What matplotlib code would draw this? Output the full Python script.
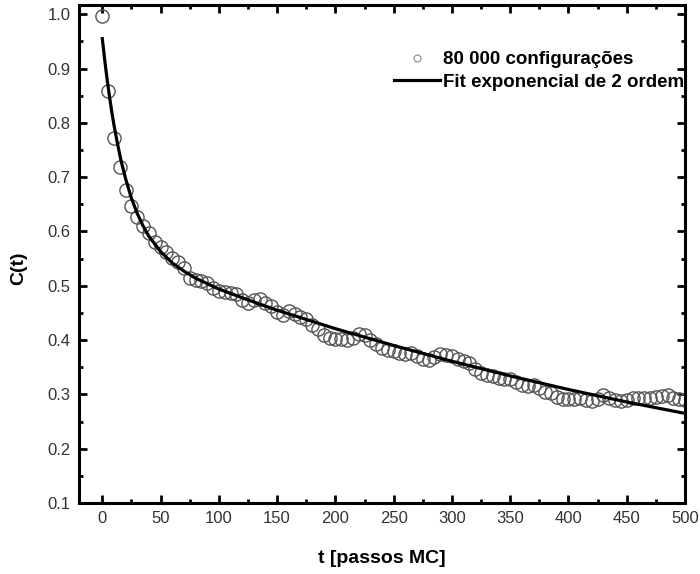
import numpy as np
import matplotlib
matplotlib.use("Agg")
import matplotlib.pyplot as plt
from matplotlib.lines import Line2D
from matplotlib.ticker import MultipleLocator

plt.rcParams['font.family'] = ['Liberation Sans', 'DejaVu Sans']

# data: C(t) every 5 MC steps
t_data = list(range(0, 505, 5))
c_data = [
    0.997, 0.858, 0.772, 0.719, 0.677, 0.647, 0.627, 0.610, 0.597, 0.581,
    0.571, 0.562, 0.552, 0.543, 0.533, 0.515, 0.511, 0.509, 0.505, 0.496,
    0.491, 0.489, 0.486, 0.484, 0.474, 0.469, 0.473, 0.476, 0.468, 0.463,
    0.452, 0.446, 0.454, 0.448, 0.443, 0.439, 0.428, 0.420, 0.410, 0.404,
    0.402, 0.402, 0.401, 0.404, 0.411, 0.410, 0.401, 0.393, 0.385, 0.382,
    0.380, 0.376, 0.374, 0.376, 0.370, 0.365, 0.363, 0.368, 0.374, 0.372,
    0.370, 0.366, 0.362, 0.358, 0.347, 0.340, 0.336, 0.333, 0.330, 0.329,
    0.328, 0.322, 0.317, 0.316, 0.317, 0.312, 0.305, 0.302, 0.295, 0.292,
    0.291, 0.292, 0.293, 0.290, 0.288, 0.292, 0.299, 0.294, 0.290, 0.288,
    0.290, 0.293, 0.293, 0.293, 0.294, 0.296, 0.297, 0.299, 0.294, 0.291,
    0.289,
]

# fitted curve
t_fit = [0, 2, 4, 6, 8, 10, 13, 16, 20, 25, 30, 35, 40, 50, 60, 70, 80, 90,
         100, 125, 150, 175, 200, 250, 300, 350, 400, 450, 500]
c_fit = [0.955, 0.917, 0.882, 0.851, 0.822, 0.796, 0.762, 0.731, 0.697, 0.661,
         0.633, 0.610, 0.591, 0.563, 0.542, 0.527, 0.514, 0.504, 0.494, 0.474,
         0.455, 0.438, 0.421, 0.390, 0.361, 0.334, 0.309, 0.286, 0.265]

lbl_data = "80 000 configurações"
lbl_fit = "Fit exponencial de 2 ordem"

fig = plt.figure(figsize=(7, 5.74), dpi=100)
ax = fig.add_axes([79/700, 1 - 503/574, 606/700, 498/574])

ax.plot(t_data, c_data, 'o', ms=9.5, mfc='none', mec='#555555', mew=1.0)
ax.plot(t_fit, c_fit, '-', color='black', lw=2.3)

ax.set_xlim(-20, 500)
ax.set_ylim(0.1, 1.017)
ax.xaxis.set_major_locator(MultipleLocator(50))
ax.xaxis.set_minor_locator(MultipleLocator(25))
ax.yaxis.set_major_locator(MultipleLocator(0.1))
ax.yaxis.set_minor_locator(MultipleLocator(0.05))
ax.yaxis.set_major_formatter(matplotlib.ticker.FormatStrFormatter('%.1f'))

ax.tick_params(which='both', direction='in', top=True, right=True, width=2,
               labelsize=12, labelcolor='#333333')
ax.tick_params(which='major', length=6, pad=6)
ax.tick_params(which='minor', length=3)
for s in ax.spines.values():
    s.set_linewidth(2.2)

ax.set_xlabel("t [passos MC]", fontsize=14, fontweight='bold')
ax.set_ylabel("C(t)", fontsize=14, fontweight='bold')
ax.xaxis.set_label_coords(0.5, -0.095)
ax.yaxis.set_label_coords(-0.086, 0.472)

handles = [
    Line2D([], [], ls='none', marker='o', ms=5, mfc='none', mec='#888888', mew=0.8),
    Line2D([], [], color='black', lw=2.3),
]
ax.legend(handles, [lbl_data, lbl_fit], frameon=False, loc='upper right',
          bbox_to_anchor=(0.998, 0.907), borderaxespad=0, borderpad=0,
          handlelength=2.5, handletextpad=0.12, labelspacing=0.28,
          prop={'weight': 'bold', 'size': 13.5})

fig.savefig("out.png", dpi=100)
